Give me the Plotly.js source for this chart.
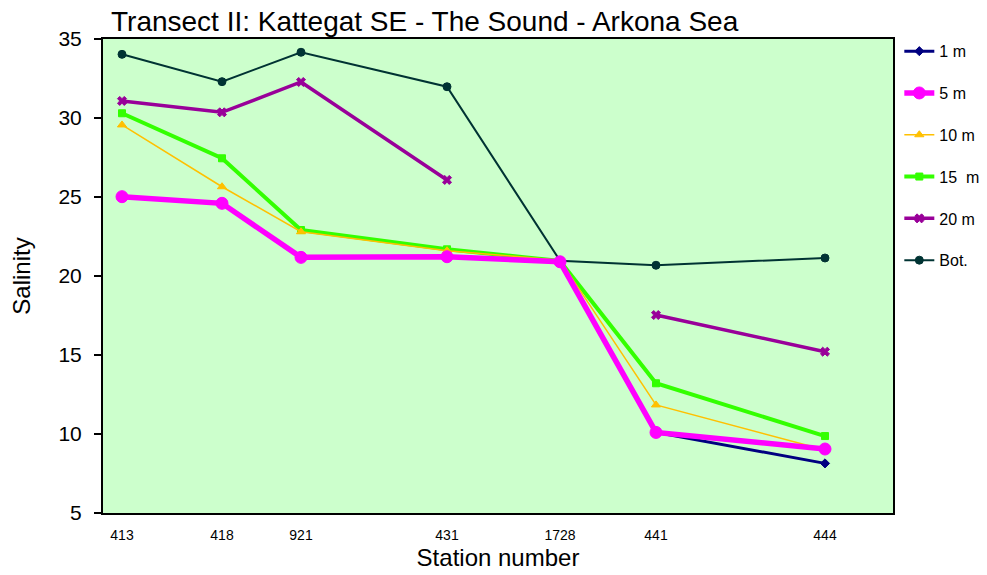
<!DOCTYPE html>
<html>
<head>
<meta charset="utf-8">
<script src="https://cdn.plot.ly/plotly-3.0.1.min.js"></script>
<style>html,body{margin:0;padding:0;background:#fff;}#chart{width:987px;height:575px;}</style>
</head>
<body>
<div id="chart"></div>
<script>
// Station labels and their along-transect positions (relative distance)
const stations = ['413', '418', '921', '431', '1728', '441', '444'];
const distance = [19, 119, 198, 344, 457, 553, 722];

// Salinity per depth
const sal1m  = [25.02, 24.60, 21.18, 21.22, 20.90, 10.10, 8.14];
const sal5m  = [25.02, 24.60, 21.18, 21.22, 20.90, 10.10, 9.05];
const sal10m = [29.56, 25.65, 22.80, 21.60, 21.00, 11.84, 8.99];
const sal15m = [30.30, 27.45, 22.91, 21.69, 20.95, 13.21, 9.87];
const sal20m = [31.08, 30.36, 32.28, 26.08, null, 17.53, 15.21];
const salBot = [34.03, 32.30, 34.16, 31.98, 20.97, 20.68, 21.14];

const seriesNames = ['1 m', '5 m', '10 m', '15  m', '20 m', 'Bot.'];

function tr(name, y, color, width, symbol, size) {
  return {
    x: distance, y: y, name: name, type: 'scatter', mode: 'lines+markers',
    line: {color: color, width: width},
    marker: {color: color, symbol: symbol, size: size, line: {color: color, width: 1}},
    connectgaps: false, legendgroup: name
  };
}

const data = [
  tr(seriesNames[5], salBot, '#003333', 2, 'circle', 8),
  tr(seriesNames[4], sal20m, '#990099', 3.5, 'x', 8),
  tr(seriesNames[3], sal15m, '#33FF00', 4, 'square', 7),
  tr(seriesNames[2], sal10m, '#FFC000', 1.5, 'triangle-up', 8),
  tr(seriesNames[0], sal1m, '#000080', 3, 'diamond', 7),
  tr(seriesNames[1], sal5m, '#FF00FF', 5.5, 'circle', 12)
];

const layout = {
  width: 987, height: 575,
  margin: {l: 103, r: 94, t: 39, b: 62, autoexpand: false},
  paper_bgcolor: '#FFFFFF',
  plot_bgcolor: '#CCFFCC',
  font: {family: 'Liberation Sans, Arial, sans-serif', color: '#000'},
  title: {text: 'Transect II: Kattegat SE - The Sound - Arkona Sea',
          font: {size: 28, color: '#000'},
          x: 111/987, xanchor: 'left', xref: 'container',
          y: 1 - 21/575, yanchor: 'middle', yref: 'container'},
  xaxis: {
    range: [0, 790], tickvals: distance, ticktext: stations,
    showgrid: false, zeroline: false,
    showline: true, linecolor: '#000', linewidth: 2, mirror: true,
    ticks: 'outside', ticklen: 8, tickcolor: 'rgba(0,0,0,0)',
    tickfont: {size: 14},
    title: {text: 'Station number', font: {size: 24}, standoff: 7}
  },
  yaxis: {
    range: [5, 35], dtick: 5, tick0: 5,
    showgrid: false, zeroline: false,
    showline: true, linecolor: '#000', linewidth: 2, mirror: true,
    ticks: 'outside', ticklen: 7, tickwidth: 2, tickcolor: '#000',
    ticklabelstandoff: 8,
    tickfont: {size: 21},
    title: {text: 'Salinity', font: {size: 24}, standoff: 21}
  },
  legend: {
    x: 1.008, xanchor: 'left', y: 1.01, yanchor: 'top',
    traceorder: 'grouped', tracegroupgap: 18,
    font: {size: 16}, bgcolor: 'rgba(0,0,0,0)', itemwidth: 30
  },
  showlegend: true
};

// legend order: 1 m, 5 m, 10 m, 15 m, 20 m, Bot.
const order = {'1 m': 1, '5 m': 2, '10 m': 3, '15  m': 4, '20 m': 5, 'Bot.': 6};
data.forEach(d => { d.legendrank = order[d.name]; });

Plotly.newPlot('chart', data, layout, {displayModeBar: false, staticPlot: true});
</script>
</body>
</html>
